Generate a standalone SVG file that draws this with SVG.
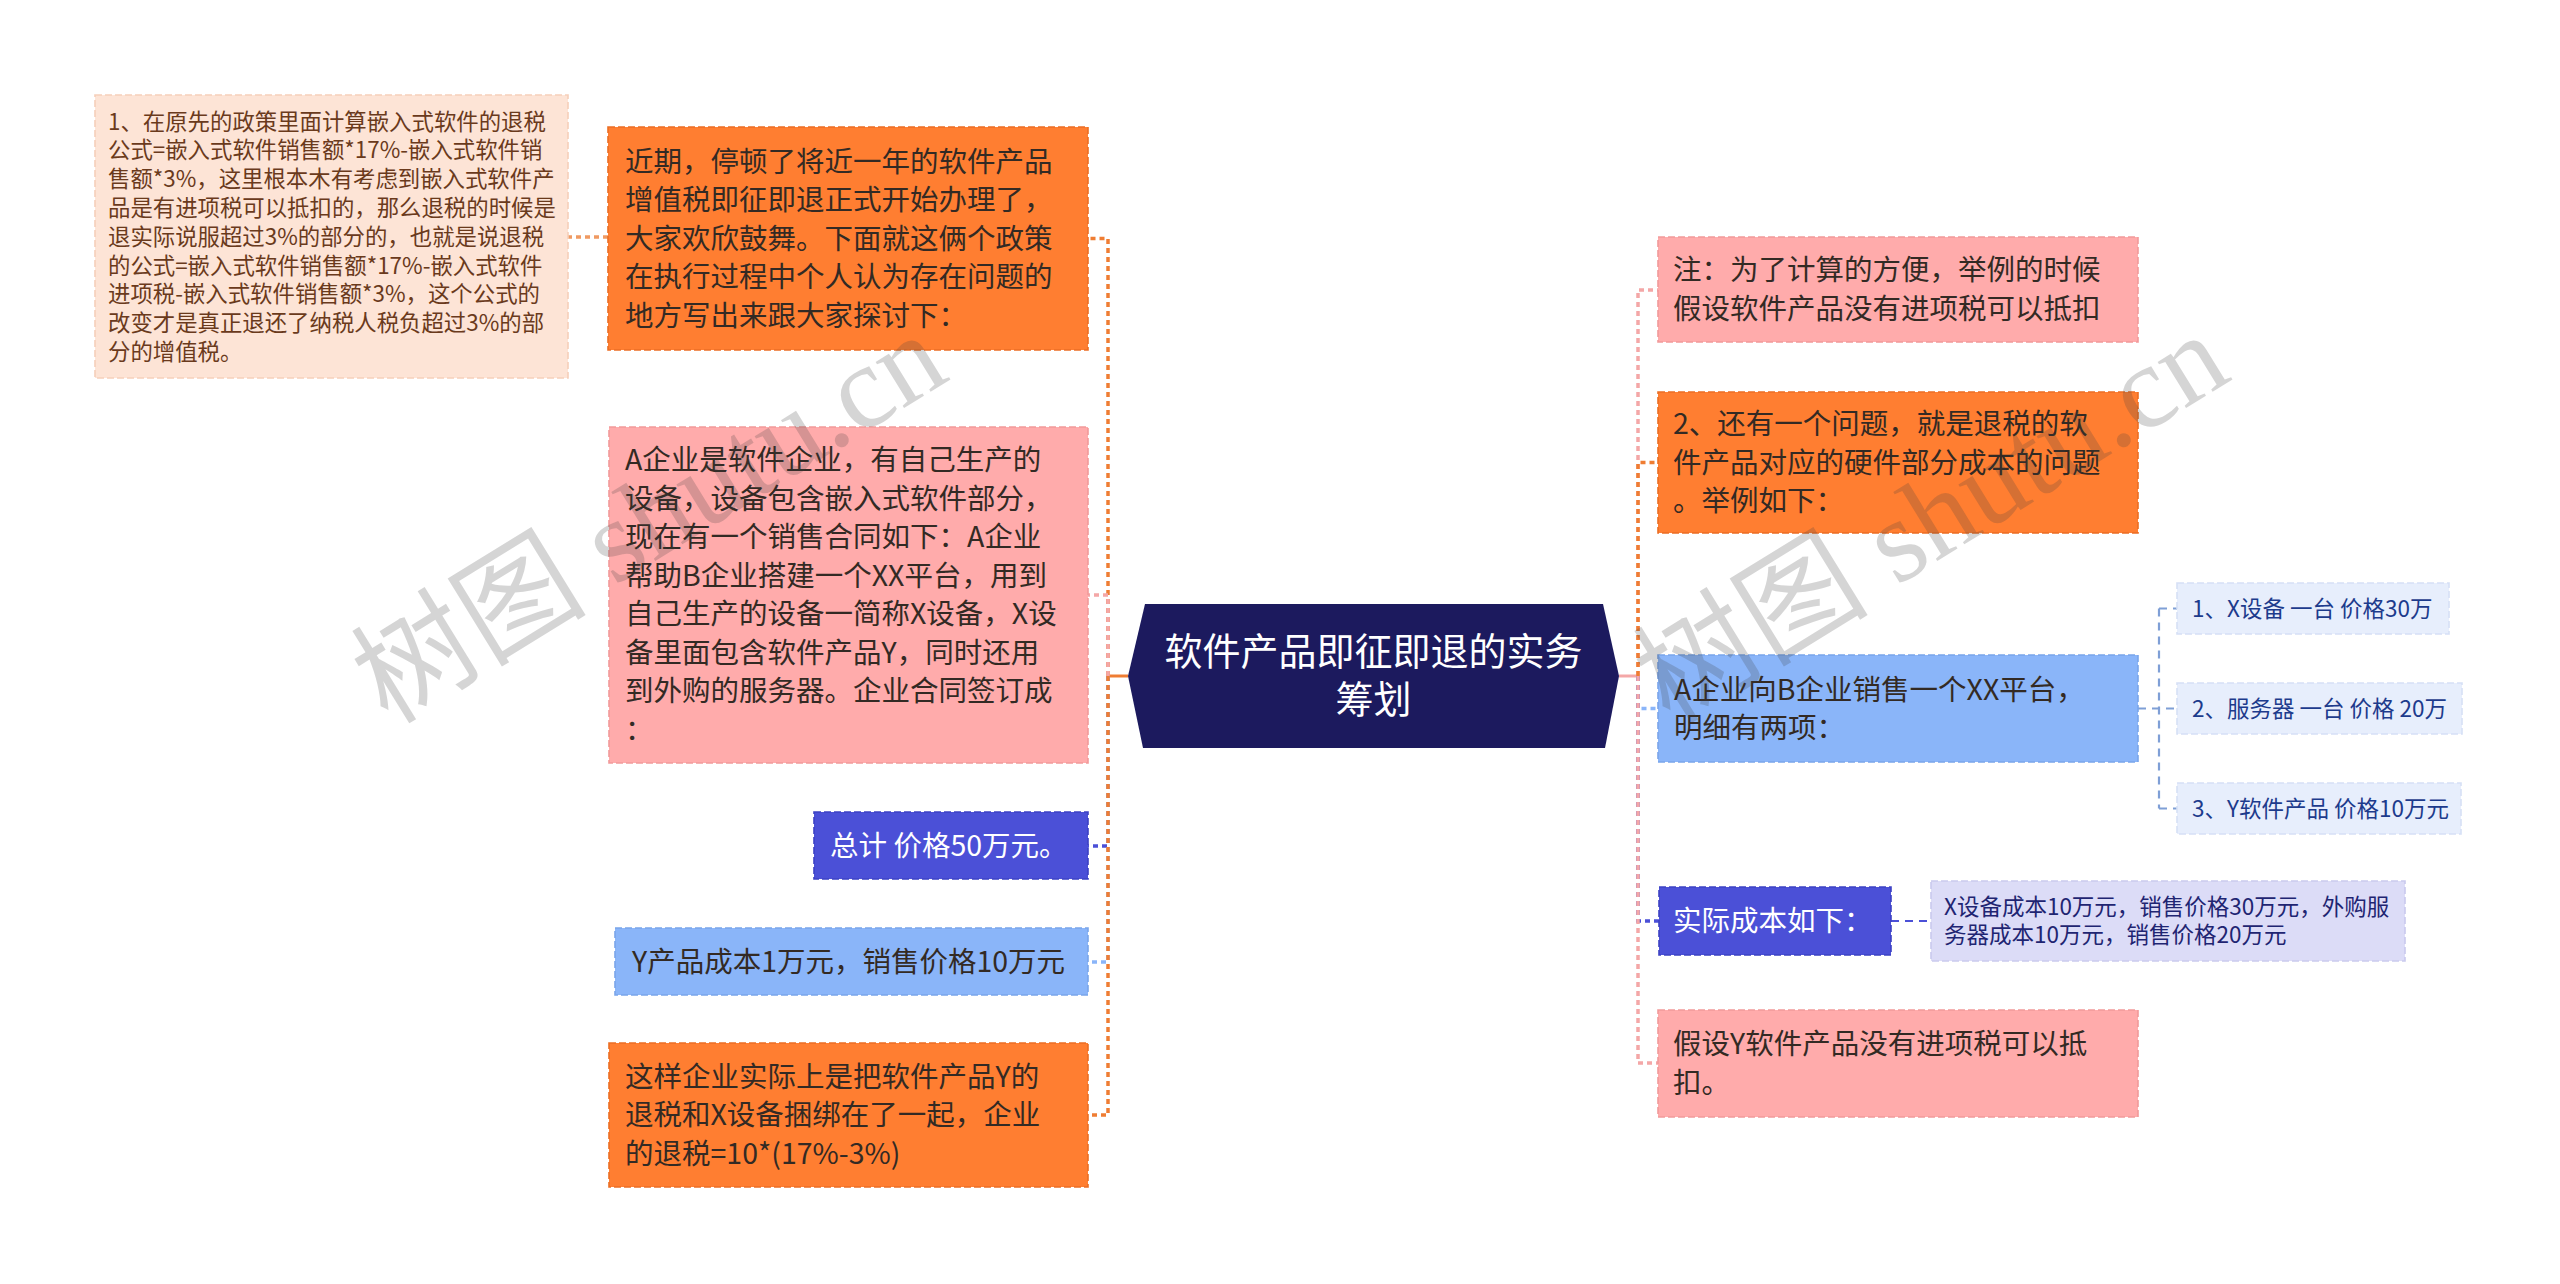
<svg xmlns="http://www.w3.org/2000/svg" width="2560" height="1284" viewBox="0 0 2560 1284">
<style>
text{font-family:"Noto Sans CJK SC","Liberation Sans",sans-serif}
.b{stroke-width:1.6;stroke-dasharray:7 3}
.orange{fill:#ff7e31;stroke:#ec6e24}
.pink{fill:#ffabab;stroke:#f29a9a}
.lblue{fill:#8ab5f9;stroke:#7aa5ea}
.dblue{fill:#4b50d7;stroke:#3d42c4}
.peach{fill:#fde4d6;stroke:#f6cfba}
.leaf{fill:#e7eefc;stroke:#d6e0f6}
.lav{fill:#dcdcf7;stroke:#cacaee}
.t28{font-size:28.5px;fill:#332a24}
.tw{font-size:28.5px;fill:#ffffff}
.t23{font-size:22.4px;fill:#6a3a1c}
.t22{font-size:22.5px;fill:#1d3b8c}
.t22n{font-size:22.5px;fill:#1f2572}
.c{fill:none;stroke-width:3.5;stroke-dasharray:5 4}
.c2{fill:none;stroke-width:2.2;stroke-dasharray:8 6}
.wm{font-family:"Liberation Serif","Noto Sans CJK SC",serif;font-size:118px;fill:#404040;fill-opacity:0.22}
</style>
<rect width="2560" height="1284" fill="#ffffff"/>
<g id="connectors">
<line x1="1128" y1="676" x2="1108" y2="676" stroke="#ef7d33" stroke-width="3"/>
<path class="c" stroke="#ef7d33" d="M1108 676 V238.5 H1088"/>
<path class="c" stroke="#f4a7a7" d="M1108 676 V595 H1088"/>
<path class="c" stroke="#4b50d7" d="M1108 676 V846 H1088"/>
<path class="c" stroke="#8ab5f9" d="M1108 676 V962 H1088"/>
<path class="c" stroke="#ef7d33" d="M1108 676 V1115 H1088"/>
<path class="c" stroke="#f09a62" d="M608 237 H568"/>
<line x1="1619" y1="676" x2="1638" y2="676" stroke="#f4a7a7" stroke-width="3"/>
<path class="c" stroke="#f4a7a7" d="M1638 676 V290 H1658"/>
<path class="c" stroke="#ef7d33" d="M1638 676 V462.5 H1658"/>
<path class="c" stroke="#8ab5f9" d="M1638 676 V708.5 H1658"/>
<path class="c" stroke="#4b50d7" d="M1638 676 V921 H1659"/>
<path class="c" stroke="#f4a7a7" d="M1638 676 V1063 H1658"/>
<path class="c2" stroke="#4b50d7" d="M1891 921 H1931"/>
<path class="c2" stroke="#7f9fd6" d="M2138 708.5 H2179 M2159 608.5 V808.5 M2159 608.5 H2179 M2159 808.5 H2179"/>
</g>
<g id="n-note">
<rect class="b peach" x="95" y="95" width="473" height="283"/>
<text class="t23"><tspan x="108" y="129.5">1、在原先的政策里面计算嵌入式软件的退税</tspan><tspan x="108" y="158.3">公式=嵌入式软件销售额*17%-嵌入式软件销</tspan><tspan x="108" y="187.1">售额*3%，这里根本木有考虑到嵌入式软件产</tspan><tspan x="108" y="215.9">品是有进项税可以抵扣的，那么退税的时候是</tspan><tspan x="108" y="244.7">退实际说服超过3%的部分的，也就是说退税</tspan><tspan x="108" y="273.5">的公式=嵌入式软件销售额*17%-嵌入式软件</tspan><tspan x="108" y="302.3">进项税-嵌入式软件销售额*3%，这个公式的</tspan><tspan x="108" y="331.1">改变才是真正退还了纳税人税负超过3%的部</tspan><tspan x="108" y="359.9">分的增值税。</tspan></text>
</g>
<g id="n-intro">
<rect class="b orange" x="608" y="127" width="480" height="223"/>
<text class="t28"><tspan x="625" y="171.5">近期，停顿了将近一年的软件产品</tspan><tspan x="625" y="210">增值税即征即退正式开始办理了，</tspan><tspan x="625" y="248.5">大家欢欣鼓舞。下面就这俩个政策</tspan><tspan x="625" y="287">在执行过程中个人认为存在问题的</tspan><tspan x="625" y="325.5">地方写出来跟大家探讨下：</tspan></text>
</g>
<g id="n-case">
<rect class="b pink" x="609" y="427" width="479" height="336"/>
<text class="t28"><tspan x="625" y="470.3">A企业是软件企业，有自己生产的</tspan><tspan x="625" y="508.8">设备，设备包含嵌入式软件部分，</tspan><tspan x="625" y="547.3">现在有一个销售合同如下：A企业</tspan><tspan x="625" y="585.8">帮助B企业搭建一个XX平台，用到</tspan><tspan x="625" y="624.3">自己生产的设备一简称X设备，X设</tspan><tspan x="625" y="662.8">备里面包含软件产品Y，同时还用</tspan><tspan x="625" y="701.3">到外购的服务器。企业合同签订成</tspan><tspan x="625" y="739.8">：</tspan></text>
</g>
<g id="n-total">
<rect class="b dblue" x="814" y="812" width="274" height="67"/>
<text class="tw" x="830" y="856">总计 价格50万元。</text>
</g>
<g id="n-ycost">
<rect class="b lblue" x="615" y="928" width="473" height="67"/>
<text class="t28" x="632" y="972">Y产品成本1万元，销售价格10万元</text>
</g>
<g id="n-bundle">
<rect class="b orange" x="609" y="1043" width="479" height="144"/>
<text class="t28"><tspan x="625" y="1086.5">这样企业实际上是把软件产品Y的</tspan><tspan x="625" y="1125">退税和X设备捆绑在了一起，企业</tspan><tspan x="625" y="1163.5">的退税=10*(17%-3%)</tspan></text>
</g>
<g id="n-center">
<polygon points="1128,676 1145,604 1603,604 1619,676 1605,748 1143,748" fill="#1c1a5e"/>
<text x="1373.5" y="665" text-anchor="middle" style="font-size:38px;fill:#ffffff">软件产品即征即退的实务</text>
<text x="1373.5" y="713" text-anchor="middle" style="font-size:38px;fill:#ffffff">筹划</text>
</g>
<g id="n-remark">
<rect class="b pink" x="1658" y="237" width="480" height="105"/>
<text class="t28"><tspan x="1673" y="280">注：为了计算的方便，举例的时候</tspan><tspan x="1673" y="318.5">假设软件产品没有进项税可以抵扣</tspan></text>
</g>
<g id="n-q2">
<rect class="b orange" x="1658" y="392" width="480" height="141"/>
<text class="t28"><tspan x="1673" y="434">2、还有一个问题，就是退税的软</tspan><tspan x="1673" y="472.5">件产品对应的硬件部分成本的问题</tspan><tspan x="1673" y="511">。举例如下：</tspan></text>
</g>
<g id="n-sale">
<rect class="b lblue" x="1658" y="655" width="480" height="107"/>
<text class="t28"><tspan x="1674" y="699.5">A企业向B企业销售一个XX平台，</tspan><tspan x="1674" y="738">明细有两项：</tspan></text>
</g>
<g id="n-item1">
<rect class="b leaf" x="2177" y="583" width="272" height="51"/>
<text class="t22" x="2192" y="616.5">1、X设备 一台 价格30万</text>
</g>
<g id="n-item2">
<rect class="b leaf" x="2177" y="683" width="285" height="51"/>
<text class="t22" x="2192" y="716.5">2、服务器 一台 价格 20万</text>
</g>
<g id="n-item3">
<rect class="b leaf" x="2177" y="783" width="284" height="51"/>
<text class="t22" x="2192" y="816.5">3、Y软件产品 价格10万元</text>
</g>
<g id="n-actual">
<rect class="b dblue" x="1659" y="887" width="232" height="68"/>
<text class="tw" x="1673" y="931">实际成本如下：</text>
</g>
<g id="n-costs">
<rect class="b lav" x="1931" y="881" width="474" height="80"/>
<text class="t22n"><tspan x="1944" y="915">X设备成本10万元，销售价格30万元，外购服</tspan><tspan x="1944" y="943">务器成本10万元，销售价格20万元</tspan></text>
</g>
<g id="n-assume">
<rect class="b pink" x="1658" y="1010" width="480" height="107"/>
<text class="t28"><tspan x="1673" y="1054">假设Y软件产品没有进项税可以抵</tspan><tspan x="1673" y="1092.5">扣。</tspan></text>
</g>
<g id="watermarks">
<text class="wm" x="649" y="558" text-anchor="middle" transform="rotate(-31.6 649 518)">树图 shutu.cn</text>
<text class="wm" x="1931" y="558" text-anchor="middle" transform="rotate(-31.6 1931 518)">树图 shutu.cn</text>
</g>
</svg>
